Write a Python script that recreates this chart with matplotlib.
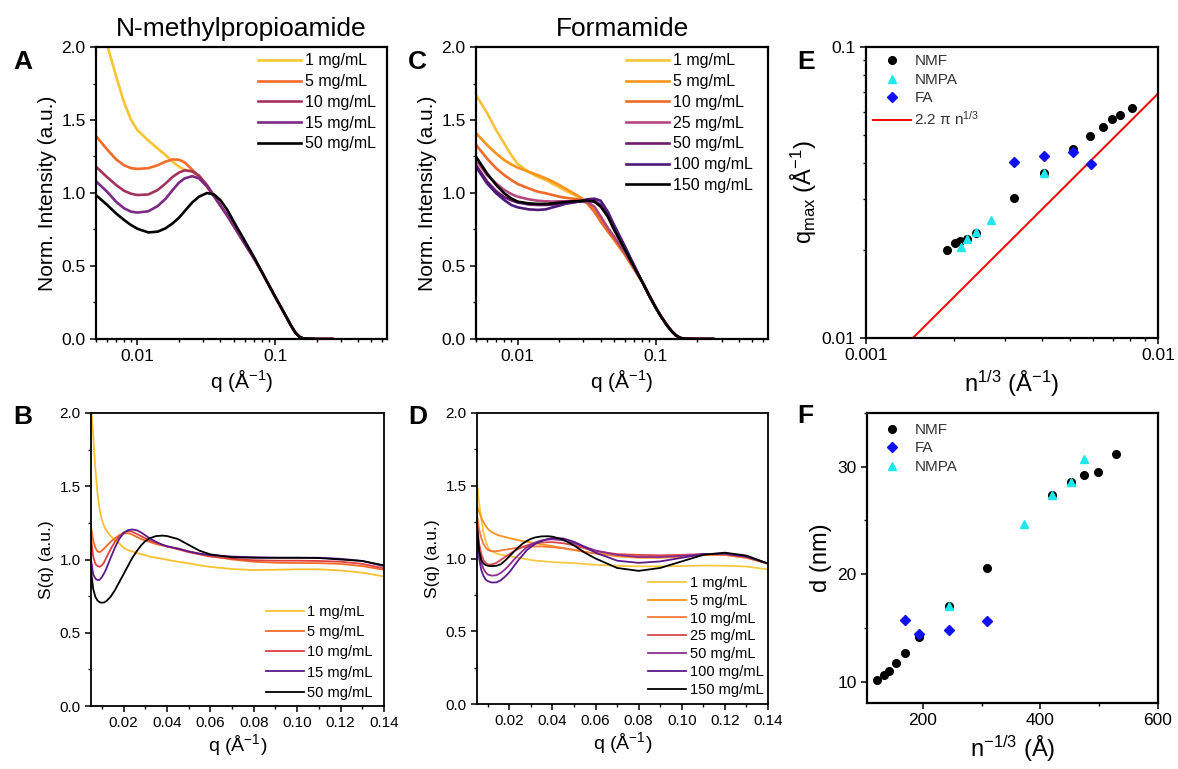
import numpy as np
import matplotlib.pyplot as plt
from matplotlib.ticker import FuncFormatter, NullFormatter, MultipleLocator

plt.rcParams['font.family'] = ['Liberation Sans', 'DejaVu Sans']
plt.rcParams['mathtext.fontset'] = 'custom'
plt.rcParams['mathtext.rm'] = 'Liberation Sans'
plt.rcParams['mathtext.it'] = 'Liberation Sans:italic'

# ---------------- Panel A: N-methylpropioamide, I(q) ----------------
qA = [0.005, 0.006, 0.007, 0.008, 0.009, 0.010, 0.012, 0.014, 0.016, 0.018, 0.020,
      0.022, 0.025, 0.028, 0.032, 0.036, 0.040, 0.045, 0.050, 0.060, 0.070, 0.080,
      0.090, 0.100, 0.110, 0.120, 0.130, 0.140, 0.150, 0.160, 0.200, 0.260]
tailA = [0.46, 0.37, 0.29, 0.22, 0.155, 0.095, 0.045, 0.016, 0.004, 0.0, 0.0]
A_1 = [2.5, 2.02, 1.80, 1.62, 1.50, 1.43, 1.36, 1.305, 1.26, 1.215, 1.18,
       1.16, 1.15, 1.11, 1.045, 0.978, 0.915, 0.845, 0.775, 0.655, 0.555] + tailA
A_5 = [1.39, 1.30, 1.23, 1.19, 1.17, 1.165, 1.17, 1.19, 1.215, 1.23, 1.228,
       1.21, 1.16, 1.112, 1.045, 0.978, 0.915, 0.845, 0.775, 0.655, 0.555] + tailA
A_10 = [1.18, 1.11, 1.055, 1.015, 0.995, 0.986, 0.99, 1.02, 1.065, 1.11, 1.14,
        1.155, 1.148, 1.12, 1.055, 0.982, 0.915, 0.845, 0.775, 0.655, 0.555] + tailA
A_15 = [1.08, 1.01, 0.94, 0.895, 0.872, 0.866, 0.875, 0.91, 0.96, 1.02, 1.07,
        1.10, 1.115, 1.10, 1.045, 0.978, 0.915, 0.845, 0.775, 0.655, 0.555] + tailA
A_50 = [0.985, 0.92, 0.86, 0.815, 0.78, 0.755, 0.73, 0.735, 0.758, 0.792, 0.83,
        0.875, 0.935, 0.975, 1.0, 0.99, 0.952, 0.884, 0.805, 0.675, 0.564] + tailA
A_labels = ['1 mg/mL', '5 mg/mL', '10 mg/mL', '15 mg/mL', '50 mg/mL']
A_colors = ['#f7c531', '#f26b2a', '#a3325f', '#7d2a84', '#000000']

# ---------------- Panel C: Formamide, I(q) ----------------
qC = qA
tailC = [0.39, 0.295, 0.215, 0.15, 0.097, 0.055, 0.025, 0.008, 0.002, 0.0, 0.0]
C_1 = [1.67, 1.55, 1.43, 1.34, 1.26, 1.20, 1.145, 1.11, 1.09, 1.062, 1.04,
       1.017, 0.993, 0.97, 0.942, 0.895, 0.838, 0.758, 0.70, 0.585, 0.48] + tailC
C_5 = [1.41, 1.33, 1.27, 1.226, 1.196, 1.174, 1.146, 1.123, 1.10, 1.078, 1.055,
       1.032, 1.002, 0.975, 0.93, 0.872, 0.805, 0.735, 0.678, 0.575, 0.475] + tailC
C_10 = [1.33, 1.237, 1.169, 1.123, 1.089, 1.062, 1.032, 1.009, 0.998, 0.986, 0.975,
        0.968, 0.961, 0.957, 0.93, 0.872, 0.805, 0.74, 0.685, 0.58, 0.478] + tailC
C_25 = [1.226, 1.123, 1.066, 1.021, 0.993, 0.975, 0.957, 0.947, 0.943, 0.941, 0.943,
        0.943, 0.943, 0.943, 0.938, 0.906, 0.838, 0.76, 0.70, 0.59, 0.485] + tailC
C_50 = [1.19, 1.08, 1.012, 0.972, 0.95, 0.935, 0.922, 0.918, 0.918, 0.921, 0.925,
        0.93, 0.936, 0.942, 0.948, 0.945, 0.92, 0.855, 0.77, 0.625, 0.50] + tailC
C_100 = [1.18, 1.066, 0.998, 0.952, 0.918, 0.902, 0.888, 0.884, 0.888, 0.902, 0.913,
         0.925, 0.934, 0.943, 0.957, 0.961, 0.947, 0.872, 0.781, 0.632, 0.50] + tailC
C_150 = [1.249, 1.135, 1.055, 0.998, 0.963, 0.941, 0.929, 0.925, 0.925, 0.929, 0.934,
         0.938, 0.943, 0.945, 0.947, 0.941, 0.906, 0.838, 0.747, 0.61, 0.49] + tailC
C_labels = ['1 mg/mL', '5 mg/mL', '10 mg/mL', '25 mg/mL', '50 mg/mL', '100 mg/mL', '150 mg/mL']
C_colors = ['#f8c33a', '#f7941d', '#f06a28', '#b5477d', '#6a1b6e', '#4d1a7a', '#000000']

# ---------------- Panel B: N-methylpropioamide, S(q) ----------------
qB = [0.005, 0.006, 0.007, 0.008, 0.009, 0.010, 0.011, 0.012, 0.014, 0.016, 0.018,
      0.020, 0.022, 0.024, 0.026, 0.028, 0.030, 0.032, 0.035, 0.038, 0.040, 0.045,
      0.050, 0.055, 0.060, 0.070, 0.080, 0.090, 0.100, 0.110, 0.120, 0.130, 0.140]
B_1 = [2.05, 1.85, 1.62, 1.45, 1.34, 1.27, 1.23, 1.20, 1.16, 1.13, 1.11,
       1.08, 1.065, 1.055, 1.045, 1.037, 1.03, 1.02, 1.012, 1.005, 0.998, 0.985,
       0.974, 0.96, 0.95, 0.935, 0.928, 0.93, 0.933, 0.933, 0.925, 0.91, 0.885]
B_5 = [1.22, 1.13, 1.08, 1.055, 1.05, 1.06, 1.075, 1.09, 1.12, 1.145, 1.165,
       1.177, 1.18, 1.17, 1.155, 1.14, 1.13, 1.12, 1.105, 1.095, 1.088, 1.075,
       1.055, 1.04, 1.025, 1.0, 0.985, 0.978, 0.976, 0.975, 0.97, 0.955, 0.93]
B_10 = [1.15, 1.02, 0.97, 0.955, 0.95, 0.96, 0.98, 1.01, 1.07, 1.12, 1.16,
        1.185, 1.195, 1.19, 1.175, 1.16, 1.145, 1.13, 1.115, 1.10, 1.09, 1.07,
        1.05, 1.035, 1.02, 1.005, 0.995, 0.992, 0.992, 0.99, 0.985, 0.97, 0.94]
B_15 = [1.0, 0.90, 0.87, 0.86, 0.862, 0.88, 0.905, 0.935, 1.01, 1.08, 1.14,
        1.18, 1.2, 1.205, 1.2, 1.185, 1.165, 1.145, 1.12, 1.10, 1.09, 1.075,
        1.055, 1.04, 1.03, 1.02, 1.015, 1.012, 1.012, 1.012, 1.005, 0.99, 0.955]
B_50 = [0.92, 0.80, 0.745, 0.72, 0.708, 0.705, 0.707, 0.715, 0.745, 0.79, 0.845,
        0.90, 0.955, 1.01, 1.055, 1.095, 1.125, 1.145, 1.16, 1.163, 1.16, 1.14,
        1.1, 1.06, 1.035, 1.015, 1.012, 1.012, 1.012, 1.01, 1.0, 0.99, 0.96]
B_labels = ['1 mg/mL', '5 mg/mL', '10 mg/mL', '15 mg/mL', '50 mg/mL']
B_colors = ['#f6c02f', '#f26b2a', '#e0403f', '#5a1a8a', '#000000']

# ---------------- Panel D: Formamide, S(q) ----------------
qD = qB
D_1 = [1.52, 1.38, 1.27, 1.18, 1.12, 1.08, 1.06, 1.048, 1.035, 1.027, 1.02,
       1.015, 1.01, 1.005, 1.0, 0.995, 0.99, 0.985, 0.982, 0.978, 0.975, 0.972,
       0.968, 0.962, 0.957, 0.95, 0.946, 0.946, 0.948, 0.952, 0.95, 0.945, 0.925]
D_5 = [1.36, 1.32, 1.28, 1.25, 1.225, 1.205, 1.19, 1.18, 1.165, 1.155, 1.148,
       1.14, 1.133, 1.127, 1.12, 1.115, 1.11, 1.105, 1.097, 1.09, 1.085, 1.072,
       1.058, 1.045, 1.035, 1.015, 1.005, 1.005, 1.012, 1.022, 1.025, 1.005, 0.965]
D_10 = [1.30, 1.20, 1.14, 1.10, 1.075, 1.06, 1.053, 1.05, 1.05, 1.055, 1.06,
        1.065, 1.07, 1.075, 1.078, 1.08, 1.082, 1.083, 1.083, 1.08, 1.078, 1.07,
        1.06, 1.045, 1.035, 1.02, 1.015, 1.015, 1.02, 1.025, 1.025, 1.005, 0.965]
D_25 = [1.25, 1.10, 1.03, 0.99, 0.97, 0.96, 0.958, 0.96, 0.97, 0.99, 1.01,
        1.03, 1.05, 1.065, 1.078, 1.09, 1.098, 1.105, 1.11, 1.112, 1.112, 1.105,
        1.09, 1.07, 1.05, 1.03, 1.025, 1.022, 1.025, 1.03, 1.03, 1.01, 0.965]
D_50 = [1.22, 1.05, 0.97, 0.93, 0.905, 0.89, 0.885, 0.882, 0.885, 0.9, 0.925,
        0.955, 0.99, 1.02, 1.05, 1.075, 1.095, 1.11, 1.125, 1.13, 1.132, 1.125,
        1.105, 1.08, 1.055, 1.025, 1.01, 1.01, 1.018, 1.03, 1.032, 1.012, 0.965]
D_100 = [1.20, 1.00, 0.92, 0.88, 0.855, 0.845, 0.838, 0.835, 0.836, 0.85, 0.875,
         0.905, 0.945, 0.985, 1.02, 1.055, 1.08, 1.1, 1.12, 1.135, 1.14, 1.138,
         1.115, 1.08, 1.04, 0.985, 0.97, 0.98, 1.005, 1.03, 1.035, 1.015, 0.965]
D_150 = [1.22, 1.05, 0.99, 0.965, 0.955, 0.95, 0.948, 0.948, 0.95, 0.96, 0.985,
         1.015, 1.045, 1.075, 1.1, 1.12, 1.135, 1.145, 1.152, 1.153, 1.15, 1.13,
         1.09, 1.04, 1.0, 0.935, 0.915, 0.935, 0.98, 1.025, 1.04, 1.02, 0.965]
D_labels = ['1 mg/mL', '5 mg/mL', '10 mg/mL', '25 mg/mL', '50 mg/mL', '100 mg/mL', '150 mg/mL']
D_colors = ['#f8c843', '#f7941d', '#f47a3b', '#d7474e', '#8b2e8e', '#5c1a8a', '#000000']

# ---------------- Panel E: q_max vs n^(1/3) ----------------
E_nmf_x = [0.00189, 0.00201, 0.0021, 0.00221, 0.00239, 0.00322, 0.00406, 0.00513,
           0.00585, 0.00647, 0.00696, 0.00741, 0.00815]
E_nmf_y = [0.0201, 0.02126, 0.0215, 0.0219, 0.0229, 0.0303, 0.0368, 0.0445,
           0.0493, 0.0532, 0.0567, 0.0585, 0.0617]
E_nmpa_x = [0.00211, 0.00221, 0.00238, 0.00269, 0.00406]
E_nmpa_y = [0.0205, 0.0219, 0.0231, 0.0254, 0.0368]
E_fa_x = [0.00322, 0.00406, 0.00513, 0.0059]
E_fa_y = [0.0402, 0.0423, 0.0434, 0.0397]
E_line_x = np.array([0.0014, 0.01])
E_line_y = 2.2 * np.pi * E_line_x

# ---------------- Panel F: d vs n^(-1/3) ----------------
F_nmf_x = [121.6, 134.3, 142.9, 154.3, 169.8, 194.3, 244.6, 309.8, 419, 451.6, 473.4, 498, 529]
F_nmf_y = [10.1, 10.65, 11.0, 11.7, 12.65, 14.1, 17.0, 20.6, 27.4, 28.6, 29.2, 29.5, 31.2]
F_fa_x = [169.8, 194.3, 244.6, 309.8]
F_fa_y = [15.7, 14.4, 14.8, 15.6]
F_nmpa_x = [244.6, 372.8, 419, 451.6, 473.4]
F_nmpa_y = [17.0, 24.7, 27.4, 28.6, 30.7]

W, H = 1178, 769
fig = plt.figure(figsize=(W / 100, H / 100), dpi=100)


def rect(l, t, r, b):
    return [l / W, 1 - b / H, (r - l) / W, (b - t) / H]


def style(ax, lw, size):
    for s in ax.spines.values():
        s.set_linewidth(lw)
    ax.tick_params(which='major', direction='out', length=4, width=1.1, labelsize=size,
                   top=False, right=False)
    ax.tick_params(which='minor', direction='out', length=2.5, width=1.0, top=False, right=False)


def fmt(v, pos):
    return f'{v:g}'


def letter(ax, s, x, y):
    ax.text(x, y, s, transform=ax.transAxes, fontsize=19, fontweight='bold',
            ha='center', va='center')


def intensity_panel(ax, q, series, labels, colors, title, legend_x):
    for y, lab, c in zip(series, labels, colors):
        ax.plot(q, y, color=c, lw=1.9, label=lab)
    ax.set_xscale('log')
    ax.set_xlim(0.005, 0.65)
    ax.set_ylim(0, 2.0)
    ax.xaxis.set_major_formatter(FuncFormatter(fmt))
    ax.xaxis.set_minor_formatter(NullFormatter())
    ax.yaxis.set_major_locator(MultipleLocator(0.5))
    ax.yaxis.set_minor_locator(MultipleLocator(0.25))
    ax.yaxis.set_major_formatter(FuncFormatter(lambda v, p: f'{v:.1f}'))
    style(ax, 1.6, 12.5)
    ax.set_xlabel('q (Å$^{-1}$)', fontsize=15, labelpad=2)
    ax.set_ylabel('Norm. Intensity (a.u.)', fontsize=15, labelpad=3)
    ax.set_title(title, fontsize=19, pad=8)
    ax.legend(loc='upper left', bbox_to_anchor=(legend_x, 0.978), frameon=False, fontsize=11.5,
              handlelength=2.7, handletextpad=0.25, labelspacing=0.36, borderpad=0, borderaxespad=0)


def sq_panel(ax, q, series, labels, colors, legend_x, legend_y, spacing):
    for y, lab, c in zip(series, labels, colors):
        ax.plot(q, y, color=c, lw=1.3, label=lab)
    ax.set_xlim(0.005, 0.14)
    ax.set_ylim(0, 2.0)
    ax.xaxis.set_major_locator(MultipleLocator(0.02))
    ax.xaxis.set_minor_locator(MultipleLocator(0.01))
    ax.xaxis.set_major_formatter(FuncFormatter(lambda v, p: f'{v:.2f}'))
    ax.yaxis.set_major_locator(MultipleLocator(0.5))
    ax.yaxis.set_minor_locator(MultipleLocator(0.25))
    ax.yaxis.set_major_formatter(FuncFormatter(lambda v, p: f'{v:.1f}'))
    style(ax, 1.3, 11)
    ax.set_xlabel('q (Å$^{-1}$)', fontsize=14, labelpad=1)
    ax.set_ylabel('S(q) (a.u.)', fontsize=12.5, labelpad=4)
    ax.legend(loc='upper left', bbox_to_anchor=(legend_x, legend_y), frameon=False, fontsize=10.5,
              handlelength=2.6, handletextpad=0.25, labelspacing=spacing, borderpad=0, borderaxespad=0)


axA = fig.add_axes(rect(96, 47, 387, 339))
intensity_panel(axA, qA, [A_1, A_5, A_10, A_15, A_50], A_labels, A_colors,
                'N-methylpropioamide', 0.557)
letter(axA, 'A', -0.25, 0.95)

axC = fig.add_axes(rect(476, 47, 768, 339))
intensity_panel(axC, qC, [C_1, C_5, C_10, C_25, C_50, C_100, C_150], C_labels, C_colors,
                'Formamide', 0.514)
letter(axC, 'C', -0.2, 0.95)

axB = fig.add_axes(rect(91, 413, 384, 706))
sq_panel(axB, qB, [B_1, B_5, B_10, B_15, B_50], B_labels, B_colors, 0.597, 0.344, 0.42)
letter(axB, 'B', -0.232, 0.985)

axD = fig.add_axes(rect(477, 413, 768, 704))
sq_panel(axD, qD, [D_1, D_5, D_10, D_25, D_50, D_100, D_150], D_labels, D_colors, 0.588, 0.441, 0.27)
letter(axD, 'D', -0.203, 0.985)

# Panel E
axE = fig.add_axes(rect(866, 47, 1158, 338))
axE.plot(E_line_x, E_line_y, color='#ee1111', lw=1.5, label='2.2 π n$^{1/3}$', zorder=2)
axE.plot(E_nmf_x, E_nmf_y, 'o', color='black', ms=5.5, label='NMF', zorder=3)
axE.plot(E_nmpa_x, E_nmpa_y, '^', color='#1ee8ee', ms=6, label='NMPA', zorder=4)
axE.plot(E_fa_x, E_fa_y, 'D', color='#1010f0', ms=4.8, label='FA', zorder=5)
axE.set_xscale('log')
axE.set_yscale('log')
axE.set_xlim(0.001, 0.01)
axE.set_ylim(0.01, 0.1)
for a in (axE.xaxis, axE.yaxis):
    a.set_major_formatter(FuncFormatter(fmt))
    a.set_minor_formatter(NullFormatter())
style(axE, 1.6, 12.5)
axE.set_xlabel('n$^{1/3}$ (Å$^{-1}$)', fontsize=17, labelpad=4)
axE.set_ylabel('q$_{\\mathrm{max}}$ (Å$^{-1}$)', fontsize=17, labelpad=2)
h, l = axE.get_legend_handles_labels()
order = [1, 2, 3, 0]
legE = axE.legend([h[i] for i in order], [l[i] for i in order], loc='upper left',
                  bbox_to_anchor=(0.024, 0.975), frameon=False, fontsize=11, handlelength=2.5,
                  handletextpad=0.2, labelspacing=0.3, borderpad=0, borderaxespad=0)
for t in legE.get_texts():
    t.set_color('#333333')
letter(axE, 'E', -0.205, 0.948)

# Panel F
axF = fig.add_axes(rect(867, 413, 1158, 703))
axF.plot(F_nmf_x, F_nmf_y, 'o', color='black', ms=5.5, label='NMF', zorder=3)
axF.plot(F_nmpa_x, F_nmpa_y, '^', color='#1ee8ee', ms=6, label='NMPA', zorder=4)
axF.plot(F_fa_x, F_fa_y, 'D', color='#1010f0', ms=4.8, label='FA', zorder=5)
axF.set_xlim(105, 600)
axF.set_ylim(8, 35)
axF.xaxis.set_major_locator(MultipleLocator(200))
axF.xaxis.set_minor_locator(MultipleLocator(100))
axF.yaxis.set_major_locator(MultipleLocator(10))
axF.yaxis.set_minor_locator(MultipleLocator(5))
style(axF, 1.6, 12.5)
axF.set_xlabel('n$^{-1/3}$ (Å)', fontsize=17, labelpad=4)
axF.set_ylabel('d (nm)', fontsize=17, labelpad=4)
h, l = axF.get_legend_handles_labels()
order = [0, 2, 1]
legF = axF.legend([h[i] for i in order], [l[i] for i in order], loc='upper left',
                  bbox_to_anchor=(0.021, 0.966), frameon=False, fontsize=11, handlelength=2.5,
                  handletextpad=0.2, labelspacing=0.3, borderpad=0, borderaxespad=0)
for t in legF.get_texts():
    t.set_color('#333333')
letter(axF, 'F', -0.213, 0.99)

fig.savefig('out.png', dpi=100)
